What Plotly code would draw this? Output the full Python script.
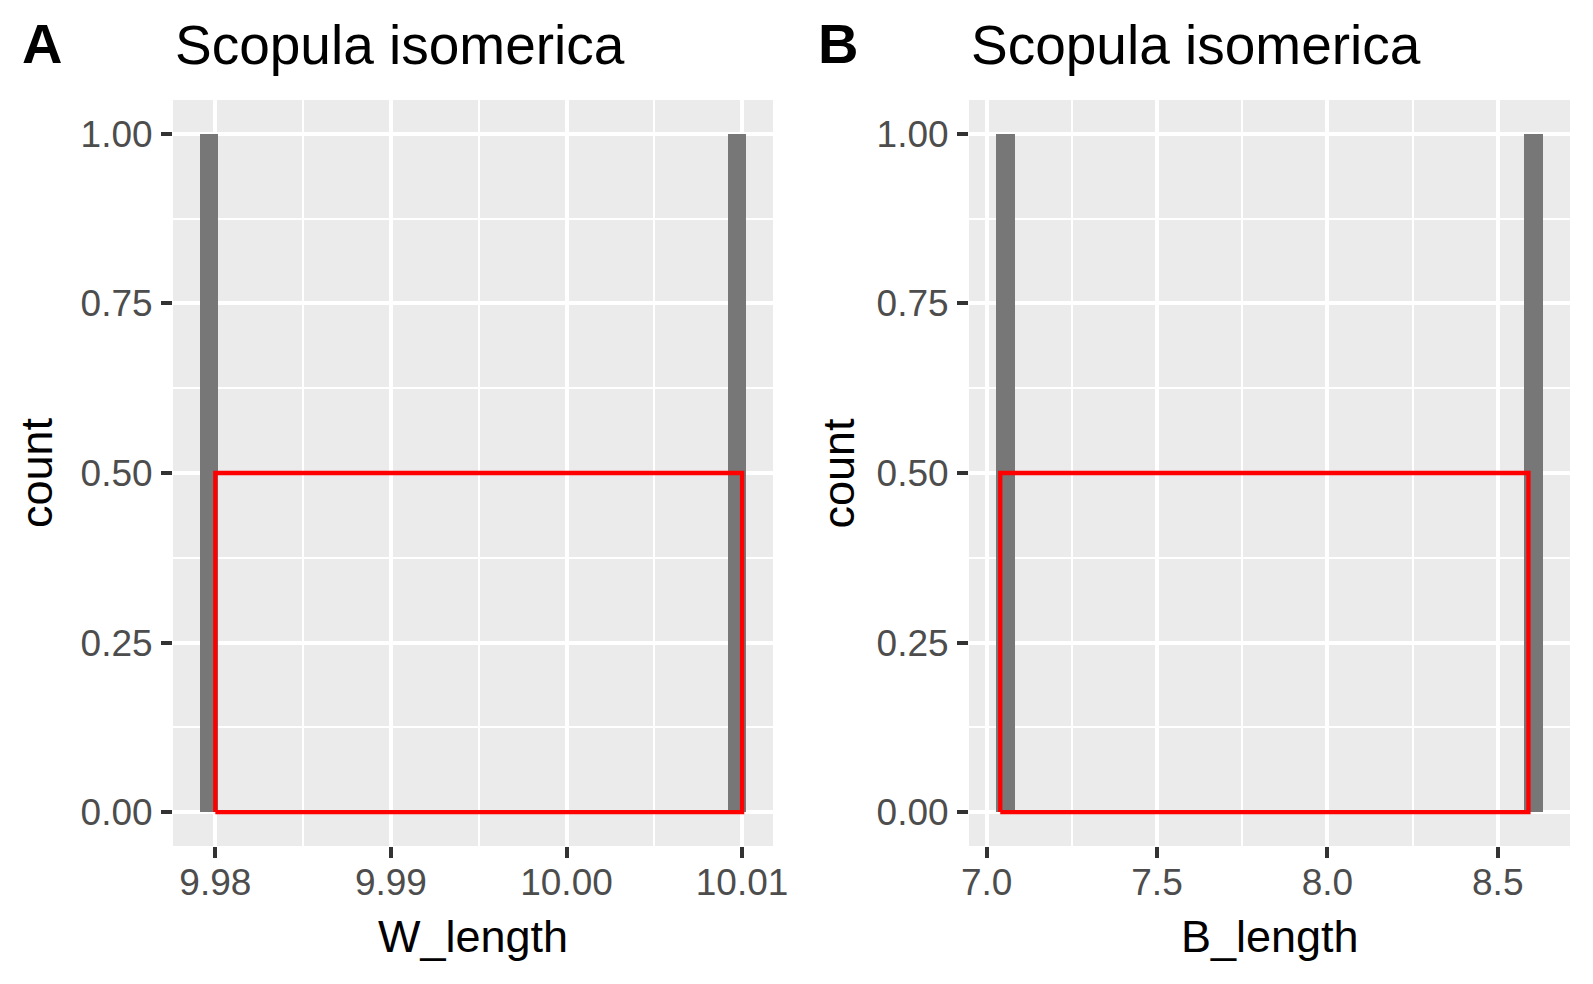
import plotly.graph_objects as go

# histogram bins (bin centre, count) and the red outline
w_bin_centres = [9.97966, 10.00969]
w_counts = [1, 1]
w_bin_width = 0.0010345
w_outline_x = [9.98, 9.98, 10.01, 10.01, 9.98]
w_outline_y = [0, 0.5, 0.5, 0, 0]

b_bin_centres = [7.0552, 8.6051]
b_counts = [1, 1]
b_bin_width = 0.05345
b_outline_x = [7.04, 7.04, 8.59, 8.59, 7.04]
b_outline_y = [0, 0.5, 0.5, 0, 0]

panel_titles = ["Scopula isomerica", "Scopula isomerica"]
panel_tags = ["A", "B"]
x_titles = ["W_length", "B_length"]

W, H = 1593, 984
FONT = "Liberation Sans"


def fx(p):
    return p / W


def fy(p):
    return 1 - p / H


def expanded(centres, width):
    lo = min(centres) - width / 2
    hi = max(centres) + width / 2
    pad = (hi - lo) * 0.05
    return [lo - pad, hi + pad]


fig = go.Figure()
fig.add_trace(go.Bar(x=w_bin_centres, y=w_counts, width=[w_bin_width] * len(w_counts),
                     marker=dict(color="#777777", line=dict(width=0)), xaxis="x", yaxis="y"))
fig.add_trace(go.Scatter(x=w_outline_x, y=w_outline_y, mode="lines",
                         line=dict(color="#FF0000", width=4.3), xaxis="x", yaxis="y"))
fig.add_trace(go.Bar(x=b_bin_centres, y=b_counts, width=[b_bin_width] * len(b_counts),
                     marker=dict(color="#777777", line=dict(width=0)), xaxis="x2", yaxis="y2"))
fig.add_trace(go.Scatter(x=b_outline_x, y=b_outline_y, mode="lines",
                         line=dict(color="#FF0000", width=4.3), xaxis="x2", yaxis="y2"))

tickfont = dict(family=FONT, size=37, color="#4D4D4D")
common = dict(showgrid=True, gridcolor="white", gridwidth=4.4, zeroline=False, showline=False,
              ticks="outside", ticklen=11, tickwidth=3.8, tickcolor="#333333",
              tickfont=tickfont, automargin=False)

yaxis_common = dict(common, range=[-0.05, 1.05], tickmode="linear", tick0=0, dtick=0.25,
                    tickformat=".2f", ticklabelstandoff=1,
                    minor=dict(tickmode="linear", tick0=0.125, dtick=0.25, showgrid=True,
                               gridcolor="white", gridwidth=2.2))
ydom = [fy(846), fy(100)]

fig.update_layout(
    template="none",
    width=W, height=H, autosize=False,
    margin=dict(l=0, r=0, t=0, b=0, pad=0),
    paper_bgcolor="white", plot_bgcolor="#EBEBEB",
    showlegend=False, bargap=0,
    xaxis=dict(common, domain=[fx(173), fx(773)], anchor="y",
               range=expanded(w_bin_centres, w_bin_width), ticklabelstandoff=-7,
               tickmode="linear", tick0=9.98, dtick=0.01, tickformat=".2f",
               minor=dict(tickmode="linear", tick0=9.985, dtick=0.01, showgrid=True,
                          gridcolor="white", gridwidth=2.2)),
    xaxis2=dict(common, domain=[fx(969), fx(1570)], anchor="y2",
                range=expanded(b_bin_centres, b_bin_width), ticklabelstandoff=-7,
                tickmode="linear", tick0=7.0, dtick=0.5, tickformat=".1f",
                minor=dict(tickmode="linear", tick0=7.25, dtick=0.5, showgrid=True,
                           gridcolor="white", gridwidth=2.2)),
    yaxis=dict(yaxis_common, domain=ydom, anchor="x"),
    yaxis2=dict(yaxis_common, domain=ydom, anchor="x2"),
)

annots = []
panel_left = [173, 969]
panel_mid = [473, 1269.5]
tag_x = [20, 816]
ytitle_x = [36, 837.6]
for i in range(2):
    annots.append(dict(text="<b>" + panel_tags[i] + "</b>", x=fx(tag_x[i]), y=fy(44),
                       xanchor="left", yanchor="middle",
                       font=dict(family=FONT, size=56, color="black")))
    annots.append(dict(text=panel_titles[i], x=fx(panel_left[i]), y=fy(45),
                       xanchor="left", yanchor="middle",
                       font=dict(family=FONT, size=55, color="black")))
    annots.append(dict(text=x_titles[i], x=fx(panel_mid[i]), y=fy(936),
                       xanchor="center", yanchor="middle",
                       font=dict(family=FONT, size=45, color="black")))
    annots.append(dict(text="count", x=fx(ytitle_x[i]), y=fy(473), textangle=-90,
                       xanchor="center", yanchor="middle",
                       font=dict(family=FONT, size=45, color="black")))
for a in annots:
    a.update(xref="paper", yref="paper", showarrow=False)
fig.update_layout(annotations=annots)

fig.write_html("out.html", config={"displayModeBar": False},
               post_script="document.body.style.margin='0';document.body.style.overflow='hidden';")
